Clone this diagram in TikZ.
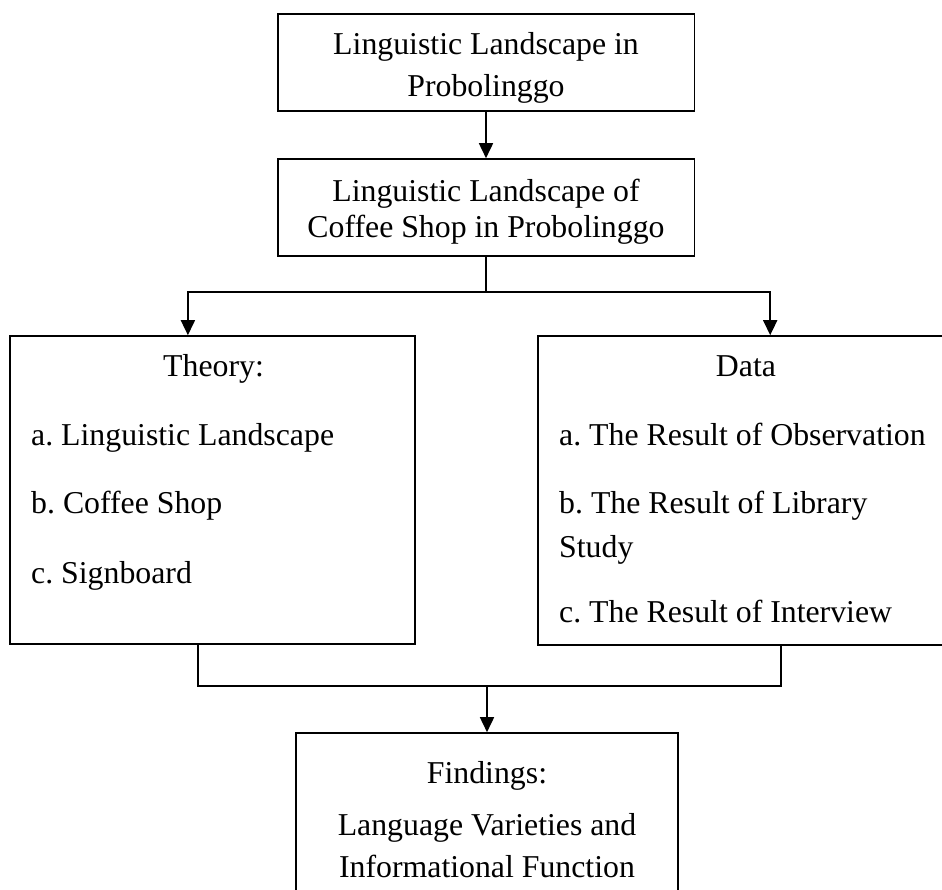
\documentclass[tikz,border=0pt]{standalone}
\usepackage{fontspec}
\setmainfont{Liberation Serif}
\usetikzlibrary{arrows.meta}

\tikzset{
  box/.style={draw, line width=1.6pt, rectangle, inner sep=0pt},
  txt/.style={anchor=base, inner sep=0pt, font=\fontsize{31.8}{42}\selectfont\frenchspacing},
  arr/.style={line width=1.7pt, -{Triangle[length=15pt,width=14pt]}},
  con/.style={line width=1.7pt}
}

\begin{document}
\begin{tikzpicture}[x=1pt, y=-1pt]
\useasboundingbox (0,0) rectangle (942,890);
\clip (0,0) rectangle (942,890);
\draw (486, 62.5) node (llp) [box, minimum width=416.6pt, minimum height=97pt] {};
\draw (486, 207.5) node (llpcs) [box, minimum width=416.6pt, minimum height=97pt] {};
\draw (212.5, 490) node (theory) [box, minimum width=405pt, minimum height=308pt] {};
\draw (746, 490.5) node (data) [box, minimum width=416pt, minimum height=309pt] {};
\draw (487, 819) node (findings) [box, minimum width=382pt, minimum height=172pt] {};
% multi-line texts sit on the baseline of their last line
\draw (486, 96.7) node (llptext) [txt, align=center] {Linguistic Landscape in\\Probolinggo};
\draw (486, 237.2) node (llpcstext) [txt, align=center] {Linguistic Landscape of\\[-6.5pt]Coffee Shop in Probolinggo};
\draw (213.5, 376) node (theoryhead) [txt] {Theory:};
\draw (31, 583) node (theorylist) [txt, anchor=base west, align=left]
  {a. Linguistic Landscape\\[26pt]b. Coffee Shop\\[28pt]c. Signboard};
\draw (746, 376) node (datahead) [txt] {Data};
\draw (559, 622) node (datalist) [txt, anchor=base west, align=left]
  {a. The Result of Observation\\[26pt]b. The Result of Library\\[2pt]Study\\[23pt]c. The Result of Interview};
\draw (487, 783) node (findingshead) [txt] {Findings:};
\draw (487, 877) node (findingstext) [txt, align=center] {Language Varieties and\\Informational Function};
\coordinate (fork) at (486, 291.7);
\coordinate (join) at (487, 686);
\coordinate (theoryin) at ([xshift=178.7pt]theory.north west);
\coordinate (datain) at ([xshift=233pt]data.north west);
\coordinate (theoryout) at ([xshift=189pt]theory.south west);
\coordinate (dataout) at ([xshift=244pt]data.south west);
\draw[arr] (llp) -- (llpcs);
\draw[con] (llpcs.south) -- (fork);
\draw[arr] (fork) -| (theoryin);
\draw[arr] (fork) -| (datain);
\draw[con] (theoryout) -- (theoryout |- join) -- (dataout |- join) -- (dataout);
\draw[arr] (join) -- (findings.north);
\end{tikzpicture}
\end{document}
